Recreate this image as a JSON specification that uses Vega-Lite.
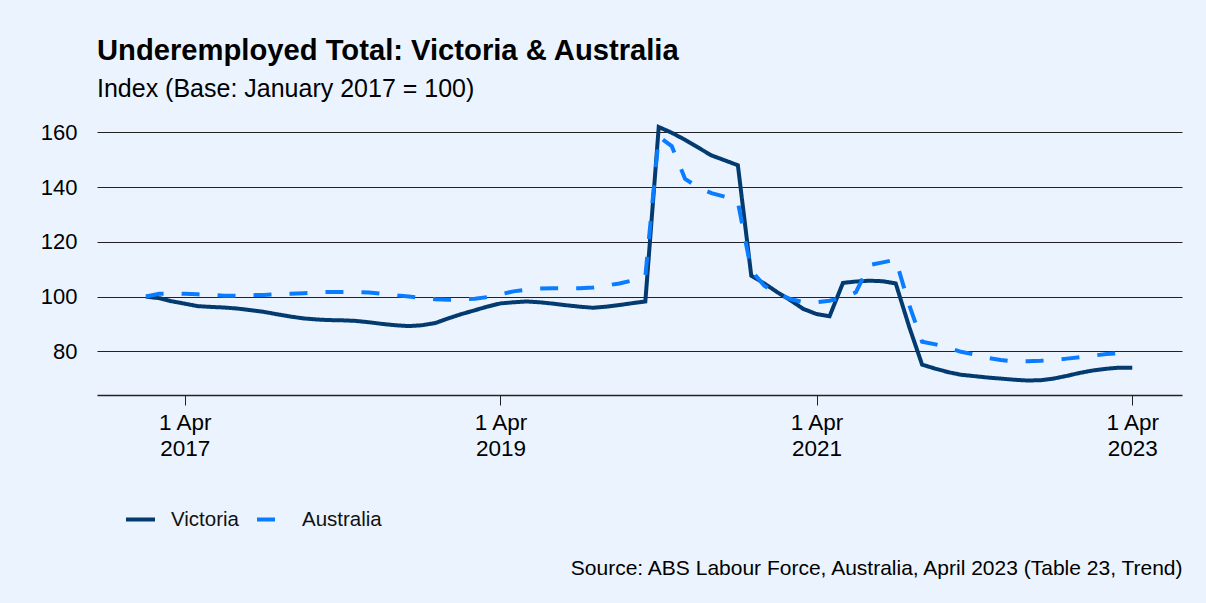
{
  "$schema": "https://vega.github.io/schema/vega-lite/v6.json",
  "width": 1085,
  "height": 268,
  "autosize": {"type": "none"},
  "padding": {"left": 97, "top": 127, "right": 24, "bottom": 208},
  "background": "#EBF4FE",
  "config": {
    "font": "Liberation Sans",
    "view": {"stroke": null},
    "title": {"anchor": "start", "frame": "group", "fontSize": 29.2, "fontWeight": "bold", "color": "#000000", "subtitleFontSize": 25, "subtitleColor": "#000000", "subtitlePadding": 11, "offset": 17},
    "axis": {"labelFont": "Liberation Sans", "labelColor": "#000000", "labelFontSize": 22}
  },
  "title": {"text": "Underemployed Total: Victoria & Australia", "subtitle": "Index (Base: January 2017 = 100)"},
  "data": {"values": [
    {"d":"2017-01-01","Victoria":100,"Australia":100},
    {"d":"2017-02-01","Victoria":99.4,"Australia":101},
    {"d":"2017-03-01","Victoria":98.3,"Australia":101.1},
    {"d":"2017-04-01","Victoria":97.4,"Australia":101.0},
    {"d":"2017-05-01","Victoria":96.5,"Australia":100.8},
    {"d":"2017-06-01","Victoria":96.2,"Australia":100.6},
    {"d":"2017-07-01","Victoria":96.0,"Australia":100.3},
    {"d":"2017-08-01","Victoria":95.6,"Australia":100.3},
    {"d":"2017-09-01","Victoria":95.0,"Australia":100.5},
    {"d":"2017-10-01","Victoria":94.4,"Australia":100.6},
    {"d":"2017-11-01","Victoria":93.5,"Australia":100.8},
    {"d":"2017-12-01","Victoria":92.7,"Australia":101.0},
    {"d":"2018-01-01","Victoria":92.0,"Australia":101.2},
    {"d":"2018-02-01","Victoria":91.6,"Australia":101.5},
    {"d":"2018-03-01","Victoria":91.4,"Australia":101.7},
    {"d":"2018-04-01","Victoria":91.3,"Australia":101.7},
    {"d":"2018-05-01","Victoria":91.1,"Australia":101.7},
    {"d":"2018-06-01","Victoria":90.6,"Australia":101.5},
    {"d":"2018-07-01","Victoria":90.0,"Australia":101.0},
    {"d":"2018-08-01","Victoria":89.5,"Australia":100.5},
    {"d":"2018-09-01","Victoria":89.2,"Australia":100.0},
    {"d":"2018-10-01","Victoria":89.5,"Australia":99.5},
    {"d":"2018-11-01","Victoria":90.3,"Australia":99.0},
    {"d":"2018-12-01","Victoria":92.0,"Australia":98.8},
    {"d":"2019-01-01","Victoria":93.6,"Australia":98.9},
    {"d":"2019-02-01","Victoria":95.0,"Australia":99.2},
    {"d":"2019-03-01","Victoria":96.3,"Australia":99.8},
    {"d":"2019-04-01","Victoria":97.5,"Australia":100.8},
    {"d":"2019-05-01","Victoria":97.9,"Australia":101.9},
    {"d":"2019-06-01","Victoria":98.2,"Australia":102.5},
    {"d":"2019-07-01","Victoria":97.9,"Australia":102.9},
    {"d":"2019-08-01","Victoria":97.4,"Australia":103.0},
    {"d":"2019-09-01","Victoria":96.8,"Australia":103.0},
    {"d":"2019-10-01","Victoria":96.3,"Australia":103.0},
    {"d":"2019-11-01","Victoria":95.9,"Australia":103.3},
    {"d":"2019-12-01","Victoria":96.3,"Australia":104.0},
    {"d":"2020-01-01","Victoria":96.9,"Australia":104.8},
    {"d":"2020-02-01","Victoria":97.6,"Australia":105.9},
    {"d":"2020-03-01","Victoria":98.2,"Australia":107.4},
    {"d":"2020-04-01","Victoria":162.0,"Australia":158.5},
    {"d":"2020-05-01","Victoria":159.9,"Australia":155.0},
    {"d":"2020-06-01","Victoria":157.3,"Australia":143.0},
    {"d":"2020-07-01","Victoria":154.5,"Australia":140.0},
    {"d":"2020-08-01","Victoria":151.6,"Australia":137.8},
    {"d":"2020-09-01","Victoria":149.8,"Australia":136.5},
    {"d":"2020-10-01","Victoria":148.0,"Australia":134.5},
    {"d":"2020-11-01","Victoria":107.6,"Australia":109.5},
    {"d":"2020-12-01","Victoria":104.8,"Australia":104.0},
    {"d":"2021-01-01","Victoria":101.5,"Australia":101.0},
    {"d":"2021-02-01","Victoria":98.5,"Australia":99.0},
    {"d":"2021-03-01","Victoria":95.5,"Australia":98.0},
    {"d":"2021-04-01","Victoria":93.6,"Australia":97.9},
    {"d":"2021-05-01","Victoria":92.8,"Australia":98.5},
    {"d":"2021-06-01","Victoria":105.0,"Australia":99.6},
    {"d":"2021-07-01","Victoria":105.5,"Australia":101.6},
    {"d":"2021-08-01","Victoria":105.8,"Australia":111.5},
    {"d":"2021-09-01","Victoria":105.6,"Australia":112.5},
    {"d":"2021-10-01","Victoria":104.8,"Australia":113.5},
    {"d":"2021-11-01","Victoria":89.0,"Australia":97.0},
    {"d":"2021-12-01","Victoria":75.1,"Australia":83.5},
    {"d":"2022-01-01","Victoria":73.6,"Australia":82.5},
    {"d":"2022-02-01","Victoria":72.3,"Australia":81.2},
    {"d":"2022-03-01","Victoria":71.4,"Australia":79.8},
    {"d":"2022-04-01","Victoria":70.9,"Australia":78.8},
    {"d":"2022-05-01","Victoria":70.4,"Australia":77.6},
    {"d":"2022-06-01","Victoria":70.0,"Australia":76.8},
    {"d":"2022-07-01","Victoria":69.6,"Australia":76.3},
    {"d":"2022-08-01","Victoria":69.3,"Australia":76.3},
    {"d":"2022-09-01","Victoria":69.4,"Australia":76.5},
    {"d":"2022-10-01","Victoria":70.0,"Australia":76.8},
    {"d":"2022-11-01","Victoria":71.0,"Australia":77.3},
    {"d":"2022-12-01","Victoria":72.1,"Australia":77.8},
    {"d":"2023-01-01","Victoria":73.0,"Australia":78.4},
    {"d":"2023-02-01","Victoria":73.6,"Australia":79.0},
    {"d":"2023-03-01","Victoria":74.0,"Australia":79.3},
    {"d":"2023-04-01","Victoria":74.0,"Australia":79.4}
  ]},
  "transform": [{"fold": ["Victoria", "Australia"], "as": ["series", "value"]}],
  "mark": {"type": "line", "strokeWidth": 4, "strokeCap": "butt", "strokeJoin": "miter"},
  "encoding": {
    "x": {
      "field": "d", "type": "temporal",
      "scale": {"type": "utc", "domain": [{"year": 2016, "month": 9, "date": 10, "utc": true}, {"year": 2023, "month": 7, "date": 25, "utc": true}]},
      "axis": {
        "values": [{"year": 2017, "month": 4, "date": 1, "utc": true}, {"year": 2019, "month": 4, "date": 1, "utc": true}, {"year": 2021, "month": 4, "date": 1, "utc": true}, {"year": 2023, "month": 4, "date": 1, "utc": true}],
        "labelExpr": "[utcFormat(datum.value, '%-d %b'), utcFormat(datum.value, '%Y')]",
        "labelLineHeight": 26,
        "labelFontSize": 22.5,
        "labelPadding": 6,
        "tickSize": 10,
        "tickColor": "#222222",
        "domainColor": "#222222",
        "domainWidth": 1.5,
        "grid": false,
        "labelFlush": false,
        "title": "Source: ABS Labour Force, Australia, April 2023 (Table 23, Trend)",
        "titleFontSize": 21,
        "titleFontWeight": "normal",
        "titleColor": "#000000",
        "titleAnchor": "end",
        "titleAlign": "right",
        "titleBaseline": "middle",
        "titleX": 1085,
        "titleY": 173
      }
    },
    "y": {
      "field": "value", "type": "quantitative",
      "scale": {"domain": [64, 162], "nice": false, "zero": false},
      "axis": {"values": [80, 100, 120, 140, 160], "domain": false, "ticks": false, "labelPadding": 20, "gridColor": "#222222", "gridWidth": 1, "title": null}
    },
    "color": {
      "field": "series", "type": "nominal",
      "scale": {"domain": ["Victoria", "Australia"], "range": ["#033A70", "#0A7CFF"]},
      "legend": {"title": null, "orient": "none", "legendX": 27, "legendY": 376, "direction": "horizontal", "symbolType": "stroke", "symbolSize": 841, "symbolStrokeWidth": 4, "labelFontSize": 20.5, "labelOffset": 14, "columnPadding": 10, "labelColor": "#111111", "labelFont": "Liberation Sans"}
    },
    "strokeDash": {
      "field": "series", "type": "nominal",
      "scale": {"domain": ["Victoria", "Australia"], "range": [[1, 0], [18, 18]]},
      "legend": {"title": null, "orient": "none", "legendX": 27, "legendY": 376, "direction": "horizontal", "symbolType": "stroke", "symbolSize": 841, "symbolStrokeWidth": 4, "labelFontSize": 20.5, "labelOffset": 14, "columnPadding": 10, "labelColor": "#111111", "labelFont": "Liberation Sans"}
    }
  }
}
